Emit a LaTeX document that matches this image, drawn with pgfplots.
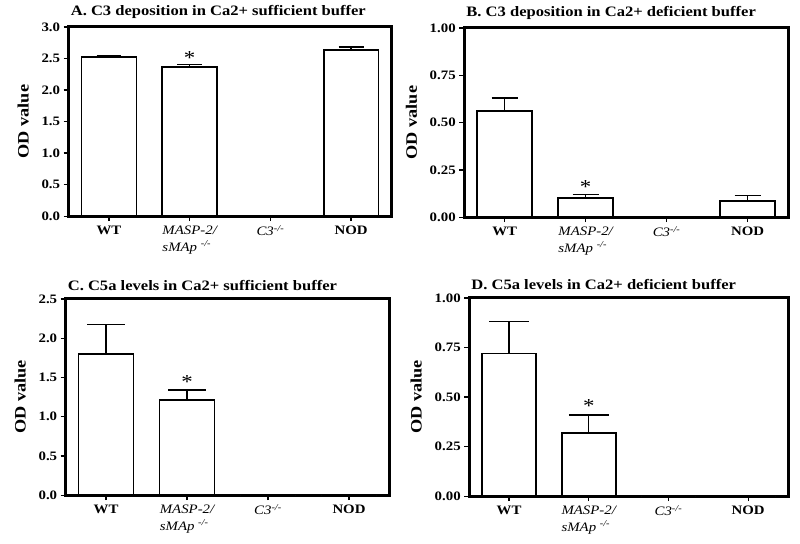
\documentclass[border=0pt]{standalone}
\usepackage{pgfplots}
\pgfplotsset{compat=1.18}
\usepackage{fontspec}
\setmainfont[FakeStretch=1.15]{Liberation Serif}
\tikzset{sigstar/.style={font=\fontsize{20}{20}\selectfont, anchor=south, inner sep=0pt, yshift=-1pt}}
\begin{document}
\pgfplotsset{
  panel/.style={
    scale only axis,
    ybar, bar width=0.68,
    xmin=-0.5, xmax=3.5, ymin=0,
    xtick={0,1,2,3},
    xticklabels={WT,{\mdseries\itshape MASP-2/\\\mdseries\itshape sMAp \textsuperscript{-/-}},{\mdseries\itshape C3\textsuperscript{-/-}},NOD},
    x tick label style={align=left, font=\fontsize{13}{17}\selectfont\bfseries, yshift=-1pt},
    y tick label style={font=\fontsize{13}{14}\selectfont\bfseries},
    /pgf/number format/assume math mode=true,
    yticklabel style={/pgf/number format/fixed, /pgf/number format/fixed zerofill},
    tick align=outside, xtick pos=left, ytick pos=left,
    major tick length=5bp,
    tick style={black, line width=1.3pt},
    axis line style={line width=3bp},
    ylabel={OD value},
    ylabel style={font=\fontsize{16}{16}\selectfont\bfseries},
    ylabel shift=6bp,
    title style={at={(0,1)}, anchor=south west, font=\fontsize{14.5}{15}\selectfont\bfseries, yshift=0pt, inner sep=2pt},
    error bars/y dir=plus, error bars/y explicit,
    error bars/error bar style={line width=1.3pt, black},
  },
  bars/.style={draw=black, fill=white, line width=1.7pt},
}
\begin{tikzpicture}[x=1bp,y=1bp]
\useasboundingbox (0,0) rectangle (800,545);
% Panel A
\begin{axis}[panel, at={(66bp,328bp)}, anchor=south west, width=324bp, height=190bp,
  ymax=3.0, ytick={0,0.5,...,3.0},
  yticklabel style={/pgf/number format/precision=1},
  title={A. C3 deposition in Ca2+ sufficient buffer},
  error bars/error mark options={rotate=90, mark size=12.5bp, line width=1.3pt}]
\addplot[bars] coordinates {(0,2.52) +- (0,0.02) (1,2.36) +- (0,0.04) (2,0.01) +- (0,0) (3,2.63) +- (0,0.05)};
\node[sigstar] at (axis cs:1,2.42) {*};
\end{axis}
% Panel B
\begin{axis}[panel, at={(463bp,327bp)}, anchor=south west, width=325bp, height=190bp,
  ymax=1.0, ytick={0,0.25,0.5,0.75,1.0},
  yticklabel style={/pgf/number format/precision=2},
  title={B. C3 deposition in Ca2+ deficient buffer},
  error bars/error mark options={rotate=90, mark size=13bp, line width=1.3pt}]
\addplot[bars] coordinates {(0,0.56) +- (0,0.07) (1,0.10) +- (0,0.02) (2,0) +- (0,0) (3,0.085) +- (0,0.03)};
\node[sigstar] at (axis cs:1,0.13) {*};
\end{axis}
% Panel C
\begin{axis}[panel, at={(63bp,48bp)}, anchor=south west, width=325bp, height=197bp,
  ymax=2.5, ytick={0,0.5,...,2.5},
  yticklabel style={/pgf/number format/precision=1},
  title={C. C5a levels in Ca2+ sufficient buffer},
  error bars/error mark options={rotate=90, mark size=19bp, line width=1.3pt}]
\addplot[bars] coordinates {(0,1.80) +- (0,0.37) (1,1.21) +- (0,0.13) (2,0) +- (0,0) (3,0) +- (0,0)};
\node[sigstar] at (axis cs:1,1.37) {*};
\end{axis}
% Panel D
\begin{axis}[panel, at={(468bp,47bp)}, anchor=south west, width=320bp, height=199bp,
  ymax=1.0, ytick={0,0.25,0.5,0.75,1.0},
  yticklabel style={/pgf/number format/precision=2},
  title={D. C5a levels in Ca2+ deficient buffer},
  error bars/error mark options={rotate=90, mark size=20bp, line width=1.3pt}]
\addplot[bars] coordinates {(0,0.72) +- (0,0.16) (1,0.32) +- (0,0.09) (2,0) +- (0,0) (3,0) +- (0,0)};
\node[sigstar] at (axis cs:1,0.425) {*};
\end{axis}
\end{tikzpicture}
\end{document}
